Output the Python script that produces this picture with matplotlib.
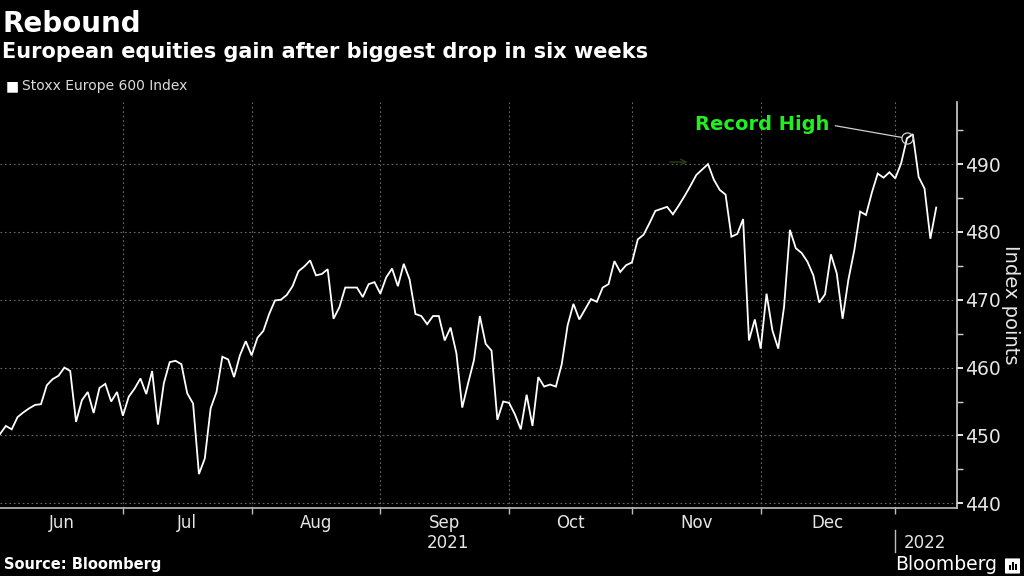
import matplotlib
matplotlib.use("Agg")
import matplotlib.pyplot as plt
from matplotlib.patches import FancyBboxPatch, Rectangle
import pandas as pd

# Stoxx Europe 600, one value per trading day, starting 2 Jun 2021
start_date = "2021-06-02"
values = [
    450.2, 451.4, 450.9, 452.7, 453.4, 454.0, 454.5, 454.6, 457.4, 458.3,
    458.8, 460.0, 459.5, 452.0, 455.2, 456.4, 453.3, 457.0, 457.6, 455.0,
    456.4, 452.9, 455.7, 456.9, 458.4, 456.1, 459.5, 451.6, 457.7, 460.8,
    461.0, 460.5, 456.2, 454.7, 444.3, 446.6, 454.0, 456.4, 461.6, 461.2,
    458.6, 461.8, 463.9, 461.8, 464.4, 465.4, 467.9, 469.9, 470.0, 470.7,
    472.0, 474.2, 474.9, 475.8, 473.6, 473.8, 474.5, 467.2, 468.9, 471.8,
    471.8, 471.8, 470.4, 472.3, 472.6, 470.9, 473.3, 474.6, 472.0, 475.3,
    473.0, 467.9, 467.6, 466.4, 467.6, 467.6, 464.0, 465.9, 462.1, 454.1,
    457.7, 461.1, 467.6, 463.5, 462.5, 452.3, 455.0, 454.8, 453.1, 450.9,
    456.0, 451.4, 458.6, 457.2, 457.5, 457.2, 460.5, 466.2, 469.4, 467.1,
    468.6, 470.1, 469.7, 471.8, 472.3, 475.7, 474.1, 475.1, 475.5, 478.9,
    479.6, 481.3, 483.1, 483.4, 483.7, 482.6, 483.9, 485.3, 486.8, 488.4,
    489.2, 490.0, 487.7, 486.2, 485.5, 479.3, 479.7, 481.9, 464.0, 467.1,
    462.8, 470.9, 465.5, 462.8, 469.0, 480.3, 477.6, 476.9, 475.6, 473.6,
    469.6, 470.8, 476.7, 473.9, 467.2, 473.0, 477.3, 483.0, 482.5, 485.8,
    488.6, 488.0, 488.8, 487.9, 490.1, 493.8, 494.4, 488.1, 486.4, 479.0,
    483.6,
]
record_index = 155  # point ringed as "Record High"

y_ticks = [440, 450, 460, 470, 480, 490]
y_minor = [445, 455, 465, 475, 485, 495]
y_range = (439.3, 499.2)

title = "Rebound"
subtitle = "European equities gain after biggest drop in six weeks"
series_name = "Stoxx Europe 600 Index"

BG = "black"
FG = "#e6e6e6"
GRID = "#6a6a6a"


def main():
    dates = pd.bdate_range(start_date, periods=len(values))
    x = list(range(len(values)))

    # first trading day of every month -> tick positions
    month_starts = [i for i in range(1, len(dates)) if dates[i].month != dates[i - 1].month]
    bounds = [0] + month_starts
    month_mid = []
    month_lab = []
    for a, b in zip(bounds[:-1], bounds[1:]):
        month_mid.append((a + b) / 2)
        month_lab.append(dates[a].strftime("%b"))

    fig = plt.figure(figsize=(10.24, 5.76), dpi=100, facecolor=BG)
    ax = fig.add_axes([0.0, 1 - 508 / 576, 956.7 / 1024, (508 - 101.7) / 576])
    ax.set_facecolor(BG)

    ax.plot(x, values, color="white", lw=1.3, solid_joinstyle="miter", zorder=3)
    ax.set_xlim(0, 163.5)
    ax.set_ylim(*y_range)

    # axes / spines
    for s in ["top", "left"]:
        ax.spines[s].set_visible(False)
    ax.spines["right"].set_color("#d0d0d0")
    ax.spines["bottom"].set_color("#bdbdbd")
    ax.spines["right"].set_linewidth(1.2)
    ax.spines["bottom"].set_linewidth(1.2)

    ax.yaxis.tick_right()
    ax.yaxis.set_label_position("right")
    ax.set_yticks(y_ticks)
    ax.set_yticks(y_minor, minor=True)
    ax.tick_params(axis="y", which="major", colors=FG, labelsize=13.5,
                   length=4, width=1.4, pad=2)
    ax.tick_params(axis="y", which="minor", colors="#d0d0d0", length=4, width=1)
    ax.set_ylabel("Index points", color=FG, fontsize=14, rotation=270, labelpad=14)

    ax.set_xticks(month_starts)
    ax.set_xticklabels([])
    ax.set_xticks(month_mid, minor=True)
    ax.set_xticklabels(month_lab, minor=True)
    ax.tick_params(axis="x", which="major", colors="#bdbdbd", length=4, width=1)
    ax.tick_params(axis="x", which="minor", colors=FG, length=0, labelsize=12, pad=4)

    ax.grid(True, which="major", color=GRID, ls=(0, (1.5, 2.5)), lw=0.8)

    # year labels below months
    xt = ax.get_xaxis_transform()
    jan = month_starts[-1]
    ax.text((0 + jan) / 2, -0.086, str(dates[0].year), transform=xt,
            ha="center", va="center", color=FG, fontsize=12)
    ax.text(jan + 1.5, -0.086, str(dates[jan].year), transform=xt,
            ha="left", va="center", color=FG, fontsize=12)
    ax.plot([jan, jan], [-0.054, -0.108], transform=xt, color="#bdbdbd",
            lw=1, clip_on=False)

    # record high marker + label
    ax.plot(record_index, values[record_index], marker="o", ms=8, mfc="none",
            mec="#cfcfcf", mew=0.9, zorder=4)
    ax.annotate("Record High", xy=(record_index, values[record_index]),
                xytext=(141.8, 495.8), ha="right", va="center",
                color="#22ee22", fontsize=14, fontweight="bold",
                arrowprops=dict(arrowstyle="-", color="#cfcfcf", lw=0.9,
                                relpos=(1.0, 0.5), shrinkA=2, shrinkB=4))

    # faint arrow left over near the November high
    ax.annotate("", xy=(118, 490.3), xytext=(114, 490.3),
                arrowprops=dict(arrowstyle="->", color="#2e3d12", lw=1))

    # titles and legend
    fig.text(0.002, 1 - 32 / 576, title, color="white", fontsize=20,
             fontweight="bold", ha="left", va="baseline")
    fig.text(0.002, 1 - 58 / 576, subtitle, color="white", fontsize=15,
             fontweight="bold", ha="left", va="baseline")
    fig.text(0.006, 1 - 86 / 576, "\u25a0", color="white", fontsize=10,
             ha="left", va="center")
    fig.text(0.021, 1 - 86 / 576, series_name, color="#dcdcdc", fontsize=10,
             ha="left", va="center")

    # footer
    fig.text(0.004, 1 - 565 / 576, "Source: Bloomberg", color="white",
             fontsize=10.5, fontweight="bold", ha="left", va="center")
    fig.text(0.974, 1 - 564 / 576, "Bloomberg", color="white", fontsize=13.5,
             ha="right", va="center")
    fig.patches.append(FancyBboxPatch((1006 / 1024, 1 - 573 / 576), 13 / 1024, 14 / 576,
                                      boxstyle="round,pad=0.001", fc="white", ec="none",
                                      transform=fig.transFigure, figure=fig))
    for k, h in enumerate([5, 8, 6]):
        fig.patches.append(Rectangle(((1009 + 3 * k) / 1024, 1 - 570 / 576), 1.8 / 1024,
                                     h / 576, fc="black", ec="none",
                                     transform=fig.transFigure, figure=fig))

    fig.savefig("out.png", dpi=100, facecolor=BG)


if __name__ == "__main__":
    main()
